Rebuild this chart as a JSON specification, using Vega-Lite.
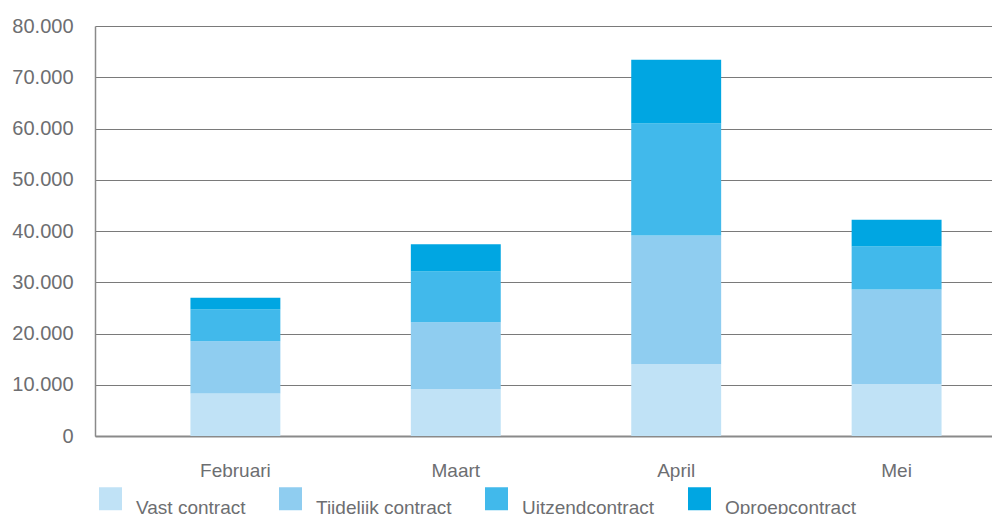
{
  "$schema": "https://vega.github.io/schema/vega-lite/v6.json",
  "autosize": "none",
  "padding": {"left": 95, "top": 26, "right": 0, "bottom": 78},
  "width": 942,
  "height": 410,
  "background": "white",
  "data": {
    "values": [
      {"maand": "Februari", "type": "Vast contract", "aantal": 8300},
      {"maand": "Februari", "type": "Tijdelijk contract", "aantal": 10200},
      {"maand": "Februari", "type": "Uitzendcontract", "aantal": 6200},
      {"maand": "Februari", "type": "Oproepcontract", "aantal": 2300},
      {"maand": "Maart", "type": "Vast contract", "aantal": 9100},
      {"maand": "Maart", "type": "Tijdelijk contract", "aantal": 13100},
      {"maand": "Maart", "type": "Uitzendcontract", "aantal": 9900},
      {"maand": "Maart", "type": "Oproepcontract", "aantal": 5300},
      {"maand": "April", "type": "Vast contract", "aantal": 14000},
      {"maand": "April", "type": "Tijdelijk contract", "aantal": 25100},
      {"maand": "April", "type": "Uitzendcontract", "aantal": 21900},
      {"maand": "April", "type": "Oproepcontract", "aantal": 12400},
      {"maand": "Mei", "type": "Vast contract", "aantal": 10100},
      {"maand": "Mei", "type": "Tijdelijk contract", "aantal": 18500},
      {"maand": "Mei", "type": "Uitzendcontract", "aantal": 8400},
      {"maand": "Mei", "type": "Oproepcontract", "aantal": 5200}
    ]
  },
  "transform": [
    {"calculate": "indexof(['Vast contract', 'Tijdelijk contract', 'Uitzendcontract', 'Oproepcontract'], datum.type)", "as": "volgorde"}
  ],
  "config": {
    "view": {"stroke": null},
    "font": "Liberation Sans"
  },
  "mark": {"type": "bar"},
  "encoding": {
    "x": {
      "field": "maand",
      "type": "nominal",
      "sort": ["Februari", "Maart", "April", "Mei"],
      "scale": {"paddingInner": 0.592, "paddingOuter": 0.433},
      "axis": {
        "title": null,
        "labelAngle": 0,
        "ticks": false,
        "domain": true,
        "domainColor": "#8a8a8a",
        "domainWidth": 2,
        "labelFontSize": 19,
        "labelColor": "#6d6e71",
        "labelPadding": 25,
        "labelBaseline": "top"
      }
    },
    "y": {
      "field": "aantal",
      "type": "quantitative",
      "aggregate": "sum",
      "stack": "zero",
      "scale": {"domain": [0, 80000], "nice": false},
      "axis": {
        "title": null,
        "values": [0, 10000, 20000, 30000, 40000, 50000, 60000, 70000, 80000],
        "labelExpr": "replace(format(datum.value, ','), ',', '.')",
        "ticks": false,
        "domain": true,
        "domainColor": "#8a8a8a",
        "domainWidth": 1.5,
        "grid": true,
        "gridColor": "#7a7a7a",
        "gridWidth": 1,
        "labelFontSize": 20,
        "labelColor": "#6d6e71",
        "labelPadding": 22
      }
    },
    "order": {"field": "volgorde", "type": "quantitative", "sort": "ascending"},
    "color": {
      "field": "type",
      "type": "nominal",
      "sort": ["Vast contract", "Tijdelijk contract", "Uitzendcontract", "Oproepcontract"],
      "scale": {
        "domain": ["Vast contract", "Tijdelijk contract", "Uitzendcontract", "Oproepcontract"],
        "range": ["#c0e2f6", "#8fcdf0", "#41b9eb", "#00a6e2"]
      },
      "legend": {
        "title": null,
        "orient": "none",
        "direction": "horizontal",
        "legendX": 4,
        "legendY": 461,
        "symbolType": "square",
        "symbolSize": 529,
        "symbolStrokeWidth": 0,
        "labelFontSize": 19,
        "labelColor": "#6d6e71",
        "labelOffset": 14,
        "labelBaseline": "top",
        "columnPadding": 33,
        "labelLimit": 300
      }
    }
  }
}
